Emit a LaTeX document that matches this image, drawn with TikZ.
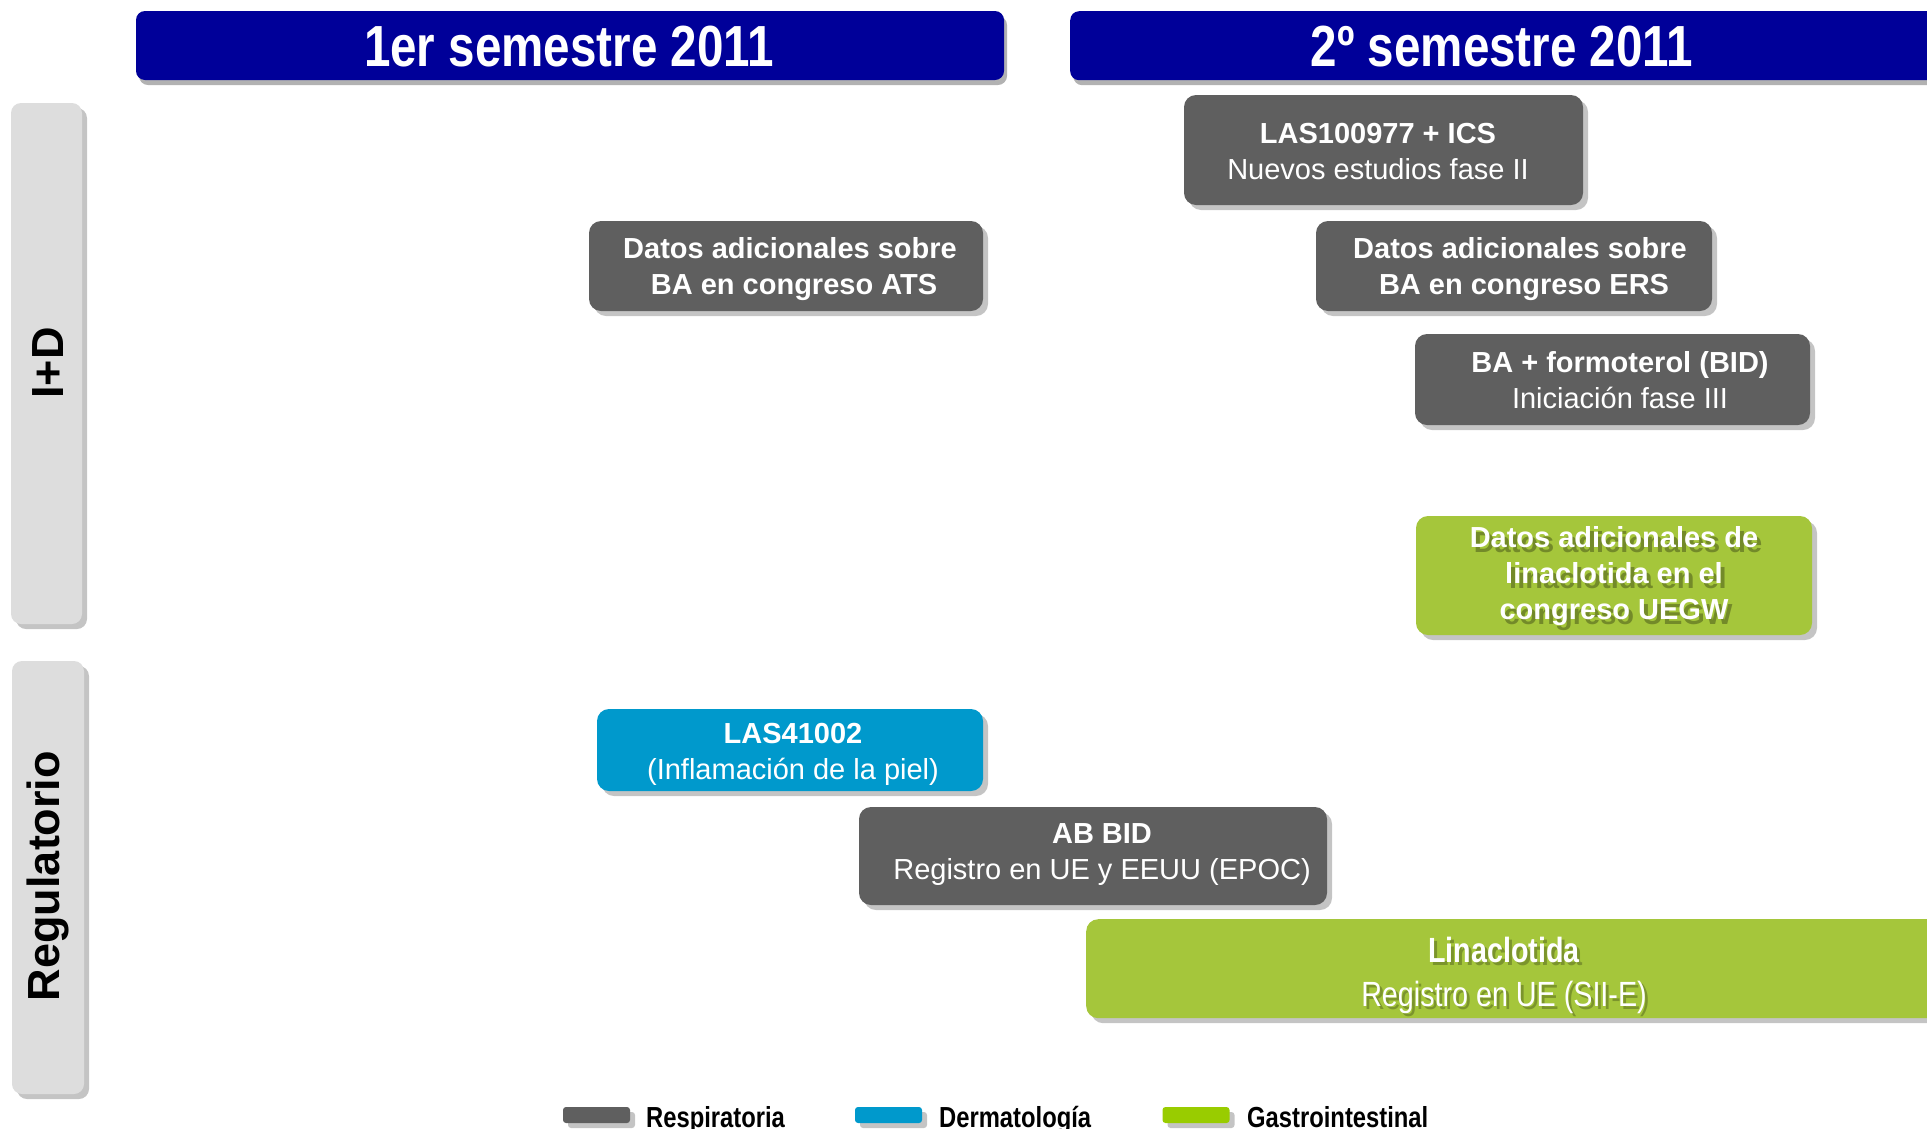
\documentclass[tikz,border=0pt]{standalone}
\usepackage{fontspec}
\setmainfont{Liberation Sans}
\newfontfamily\narrowfont[FakeStretch=0.82]{Liberation Sans}
\usetikzlibrary{shadows}
\definecolor{hdrblue}{HTML}{000099}
\definecolor{boxgray}{HTML}{5F5F5F}
\definecolor{boxblue}{HTML}{0099CC}
\definecolor{boxgreen}{HTML}{A5C63B}
\definecolor{leggreen}{HTML}{99CC00}
\definecolor{sidegray}{HTML}{DDDDDD}
\definecolor{shadowgray}{HTML}{C4C4C4}
\begin{document}
\begin{tikzpicture}[x=1pt,y=-1pt,
  shad/.style={drop shadow={shadow xshift=5pt,shadow yshift=-5pt,fill=shadowgray,opacity=1}},
  evbox/.style={shad,rounded corners=12pt,inner sep=0pt},
  graybox/.style={evbox,fill=boxgray},
  bluebox/.style={evbox,fill=boxblue},
  greenbox/.style={evbox,fill=boxgreen},
  hdr/.style={rounded corners=9pt,fill=hdrblue,inner sep=0pt,
    drop shadow={shadow xshift=3pt,shadow yshift=-5pt,fill=black,opacity=0.3}},
  hdrtxt/.style={text=white,inner sep=0pt,font=\narrowfont\bfseries\fontsize{58}{60}\selectfont},
  side/.style={rounded corners=10pt,fill=sidegray,inner sep=0pt,
    drop shadow={shadow xshift=5pt,shadow yshift=-5pt,fill=shadowgray,opacity=1}},
  sidetxt/.style={rotate=90,inner sep=0pt,font=\bfseries\fontsize{45}{50}\selectfont},
  boxtxt/.style={text=white,align=center,inner sep=0pt,font=\fontsize{29}{36}\selectfont},
  shtxt/.style={text=black,opacity=0.3,align=center,inner sep=0pt,font=\fontsize{29}{36}\selectfont},
  nbtxt/.style={text=white,align=center,inner sep=0pt,font=\narrowfont\fontsize{35}{44}\selectfont},
  nbsh/.style={text=black,opacity=0.25,align=center,inner sep=0pt,font=\narrowfont\fontsize{35}{44}\selectfont},
  swatch/.style={rounded corners=3pt,inner sep=0pt,minimum width=67pt,minimum height=16pt,
    drop shadow={shadow xshift=5pt,shadow yshift=-5pt,fill=shadowgray,opacity=1}},
  legtxt/.style={anchor=base west,inner sep=0pt,font=\narrowfont\bfseries\fontsize{29}{32}\selectfont}
]
\useasboundingbox (0,0) rectangle (1927,1128);
\clip (0,0) rectangle (1927,1128);

% headers
\node[hdr,minimum width=868pt,minimum height=69pt] (h1) at (570,45.5) {};
\node[hdrtxt] (h1t) at (569,47) {1er semestre 2011};
\node[hdr,minimum width=900pt,minimum height=69pt,anchor=north west] (h2) at (1070,11) {};
\node[hdrtxt] (h2t) at (1502,47) {2º semestre 2011};

% side labels
\node[side,minimum width=71pt,minimum height=521pt] (s1) at (46.5,363.5) {};
\node[sidetxt] (s1t) at (48,363) {I+D};
\node[side,minimum width=72pt,minimum height=433pt] (s2) at (48,877.5) {};
\node[sidetxt] (s2t) at (48,876) {Regulatorio};

% I+D boxes
\node[graybox,minimum width=399pt,minimum height=110pt] (b1) at (1383.5,150) {};
\node[boxtxt] (b1t) at (1378,152) {\textbf{LAS100977 + ICS}\\Nuevos estudios fase II};

\node[graybox,minimum width=394pt,minimum height=90pt] (b2) at (786,266) {};
\node[boxtxt] (b2t) at (790,269) {\textbf{Datos adicionales sobre}\\\textbf{\ BA en congreso ATS}};

\node[graybox,minimum width=396pt,minimum height=90pt] (b3) at (1514,266) {};
\node[boxtxt] (b3t) at (1520,269) {\textbf{Datos adicionales sobre}\\\textbf{\ BA en congreso ERS}};

\node[graybox,minimum width=395pt,minimum height=91pt] (b4) at (1612.5,379.5) {};
\node[boxtxt] (b4t) at (1620,380) {\textbf{BA + formoterol (BID)}\\Iniciación fase III};

\node[greenbox,minimum width=396pt,minimum height=119pt] (b5) at (1614,575.5) {};
\node[shtxt] (b5s) at (1618,581) {\textbf{Datos adicionales de}\\\textbf{linaclotida en el}\\\textbf{congreso UEGW}};
\node[boxtxt] (b5t) at (1614,576) {\textbf{Datos adicionales de}\\\textbf{linaclotida en el}\\\textbf{congreso UEGW}};

% Regulatorio boxes
\node[bluebox,minimum width=386pt,minimum height=82pt] (b6) at (790,750) {};
\node[boxtxt] (b6t) at (793,754) {\textbf{LAS41002}\\(Inflamación de la piel)};

\node[graybox,minimum width=468pt,minimum height=98pt] (b7) at (1093,856) {};
\node[boxtxt] (b7t) at (1102,855) {\textbf{AB BID}\\Registro en UE y EEUU (EPOC)};

\node[greenbox,minimum width=880pt,minimum height=99pt,anchor=north west] (b8) at (1086,919) {};
\node[nbsh] (b8s) at (1507,978) {\textbf{Linaclotida}\\Registro en UE (SII-E)};
\node[nbtxt] (b8t) at (1504,975) {\textbf{Linaclotida}\\Registro en UE (SII-E)};

% legend
\node[swatch,fill=boxgray] (l1) at (596.5,1115) {};
\node[legtxt] (l1t) at (646,1127) {Respiratoria};
\node[swatch,fill=boxblue] (l2) at (888.5,1115) {};
\node[legtxt] (l2t) at (939,1127) {Dermatología};
\node[swatch,fill=leggreen] (l3) at (1196,1115) {};
\node[legtxt] (l3t) at (1247,1127) {Gastrointestinal};
\end{tikzpicture}
\end{document}
